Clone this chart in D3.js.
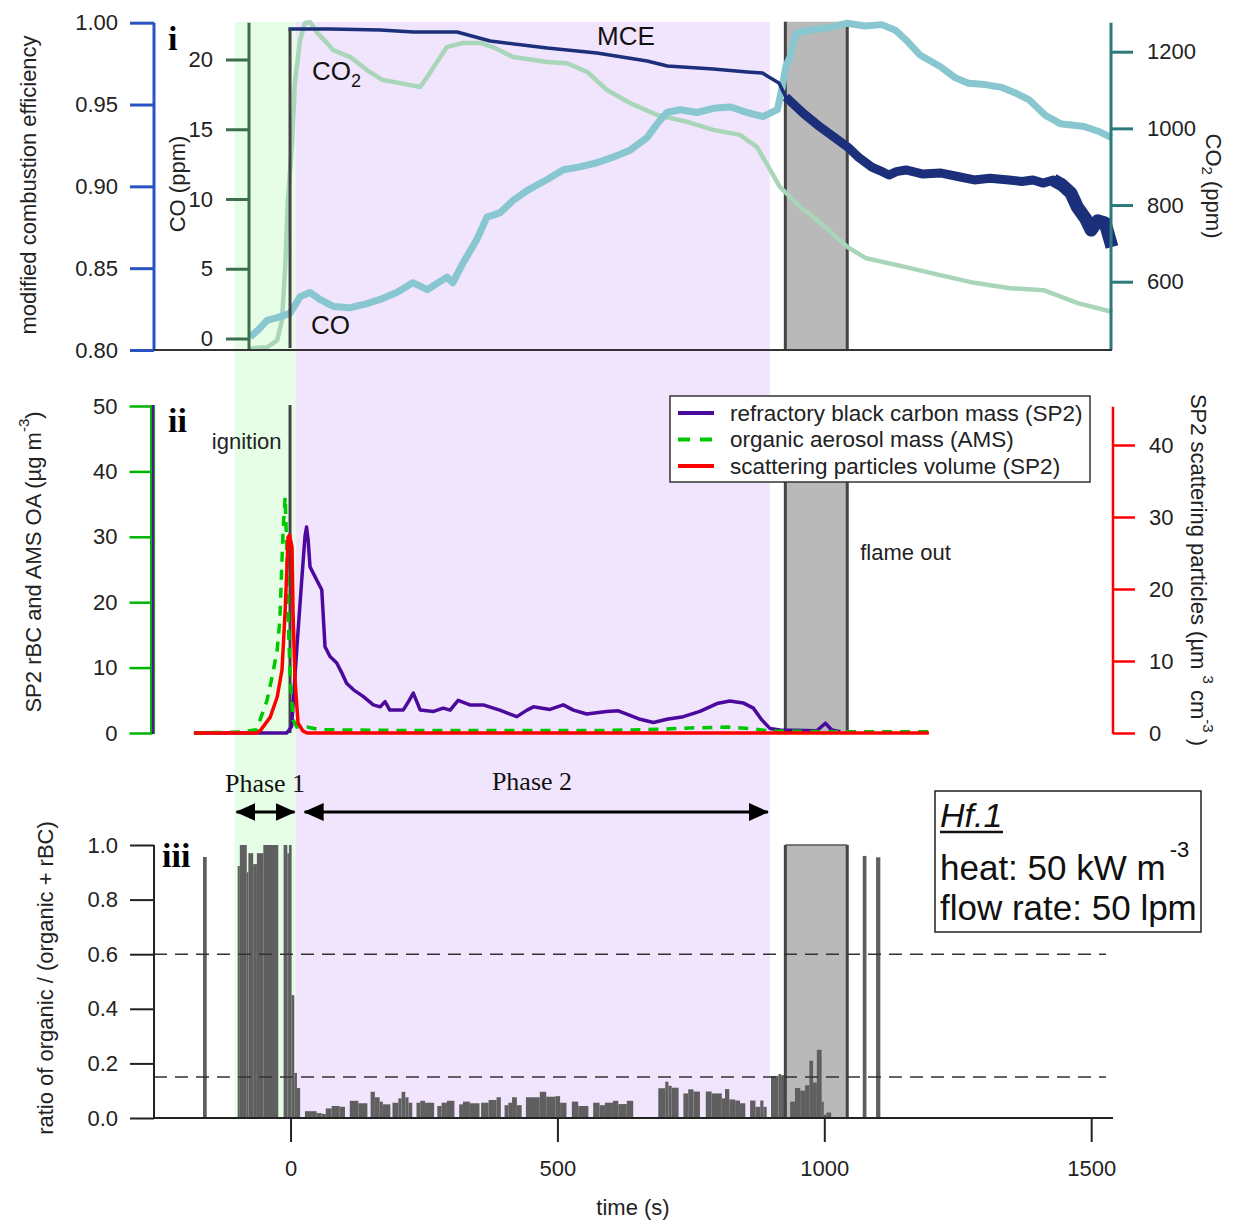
<!DOCTYPE html>
<html><head><meta charset="utf-8">
<script src="https://cdn.jsdelivr.net/npm/d3@7"></script>
<style>
body{margin:0;background:#fff;}
svg{font-family:"Liberation Sans",Arial,sans-serif;}
</style></head>
<body>
<script>
// ---------------- DATA ----------------
const xTicks = [0, 500, 1000, 1500];
const mceTicks = [0.80, 0.85, 0.90, 0.95, 1.00];
const coTicks = [0, 5, 10, 15, 20];
const co2Ticks = [600, 800, 1000, 1200];
const massTicks = [0, 10, 20, 30, 40, 50];
const scatTicks = [0, 10, 20, 30, 40];
const ratioTicks = [0, 0.2, 0.4, 0.6, 0.8, 1.0];
const ratioThresholds = [0.6, 0.15];

const ignitionTime = 0;
const phase1 = [-105, 9.5];
const phase2 = [9.5, 898];
const flameOut = [927, 1043];

// panel i : modified combustion efficiency [t, MCE]
const mce = [[-4,0.9961],[74,0.9961],[168,0.9955],[230,0.9943],[312,0.9943],[374,0.9888],[481,0.9845],[574,0.9815],[668,0.9766],[706,0.9735],[792,0.9717],[856,0.9699],[884,0.9693],[893,0.9674],[915,0.9632],[928,0.9546],[960,0.9448],[992,0.9363],[1044,0.9240],[1065,0.9175],[1089,0.9118],[1105,0.9095],[1121,0.9069],[1135,0.9090],[1153,0.9100],[1185,0.9075],[1217,0.9082],[1250,0.9060],[1281,0.9039],[1310,0.9050],[1346,0.9039],[1370,0.9030],[1391,0.9039],[1410,0.9020],[1429,0.9039],[1445,0.9010],[1462,0.8959],[1474,0.8874],[1490,0.8800],[1500,0.8733],[1512,0.8790],[1526,0.8776],[1539,0.8629]];
// panel i : CO (ppm) [t, CO]
const co = [[-76,0.1],[-61,0.6],[-44,1.3],[-25,1.5],[-1,1.8],[18,3.0],[36,3.3],[55,2.8],[80,2.3],[111,2.2],[143,2.5],[168,2.8],[199,3.3],[229,4.0],[256,3.5],[293,4.4],[304,4.0],[323,5.4],[349,7.1],[368,8.7],[392,9.0],[417,9.9],[443,10.6],[481,11.4],[511,12.1],[542,12.3],[574,12.6],[604,13.0],[636,13.5],[668,14.4],[687,15.4],[705,16.2],[730,16.4],[762,16.2],[792,16.5],[824,16.6],[855,16.2],[885,15.9],[912,16.4],[921,18.0],[928,19.5],[936,20.2],[947,21.9],[973,22.1],[1011,22.3],[1043,22.6],[1076,22.4],[1108,22.5],[1133,22.1],[1153,21.4],[1180,20.3],[1217,19.5],[1245,18.7],[1270,18.3],[1301,18.2],[1333,18.0],[1358,17.6],[1384,17.1],[1414,16.0],[1442,15.4],[1487,15.2],[1517,14.8],[1538,14.4]];
// panel i : CO2 (ppm) [t, CO2]
const co2 = [[-76,426],[-44,429],[-25,447],[-16,500],[-10,638],[-5,813],[3,962],[8,1118],[18,1231],[27,1275],[37,1277],[50,1249],[68,1223],[80,1204],[112,1186],[143,1152],[173,1126],[205,1118],[243,1108],[256,1134],[293,1212],[323,1223],[355,1223],[379,1212],[417,1186],[481,1173],[518,1170],[556,1147],[593,1100],[636,1066],[687,1035],[743,1017],[792,996],[842,983],[874,951],[917,847],[955,795],[987,761],[1043,691],[1077,662],[1153,638],[1217,617],[1281,597],[1348,583],[1411,578],[1475,544],[1540,521]];

// panel ii : refractory black carbon mass (µg m-3) [t, value]
const rbc = [[-181,0],[-7,0],[2,1],[12,13.2],[21,23.4],[27,30],[30,31.5],[33,29.5],[36.5,25.4],[49,23.4],[58.5,21.9],[64.6,13.2],[74,11.7],[86.6,10.7],[96,9.2],[105,7.6],[118,6.6],[136,5.6],[155,4.3],[168,4.0],[177,4.8],[186,3.5],[211,3.5],[221,4.8],[230,6.1],[243,3.5],[268,3.3],[286,3.8],[299,3.5],[314,5.0],[336,4.3],[361,4.3],[392,3.5],[424,2.5],[443,3.5],[455,4.0],[486,3.6],[511,4.3],[530,3.5],[555,2.9],[592,3.3],[614,3.4],[630,2.9],[655,2.1],[680,1.6],[705,2.1],[736,2.5],[767,3.3],[799,4.5],[823,4.9],[848,4.6],[867,3.8],[883,2.0],[898,0.7],[917,0.46],[986,0.35],[1002,1.5],[1014,0.46],[1030,0.2]];
// panel ii : organic aerosol mass (µg m-3) [t, value]
const oa = [[-181,0],[-94,0.15],[-63,0.5],[-57,2.0],[-44,5.0],[-33,9.2],[-25,12.7],[-20,17.3],[-14,31],[-10,36.1],[-6.6,26.5],[-4.7,18.3],[-1,9.2],[4.7,2.0],[12,0.9],[31,0.9],[55,0.5],[200,0.4],[400,0.4],[600,0.4],[700,0.6],[760,0.8],[820,0.9],[870,0.6],[900,0.3],[1000,0.2],[1196,0.2]];
// panel ii : scattering particles volume (µm3 cm-3) [t, value]
const scat = [[-181,0],[-63,0],[-57,0.3],[-38,2.2],[-25,5.0],[-16,8.75],[-10.3,16.7],[-6.6,23.1],[-4.7,27.2],[-1.9,27.5],[2.8,25.8],[4.7,16.7],[8.4,7.4],[14,1.4],[23,0.3],[31,0],[1196,0]];

// panel iii : ratio organic/(organic+rBC) bins [tStart, tEnd, ratio]
const ratioBars = [
[-164,-157,0.956],
[-99,-95,0.923],[-95,-82,1.0],[-82,-79,0.90],[-79,-70,0.97],[-70,-63,0.93],[-63,-51,0.97],[-51,-23,1.0],
[-13,-6,1.0],[-6,-3,0.97],[-3,2,1.0],[2,7,0.45],[7,12,0.165],[12,18,0.11],
[27,49,0.025],[49,58,0.018],[58,66,0.015],[66,77,0.035],[77,92,0.044],[92,102,0.041],
[111,127,0.063],[127,144,0.054],[150,158,0.096],[158,167,0.076],[167,173,0.06],[173,187,0.05],
[191,202,0.056],[202,208,0.072],[208,215,0.096],[215,221,0.076],[221,228,0.056],
[236,243,0.056],[243,252,0.063],[252,269,0.056],
[275,283,0.044],[283,293,0.056],[293,307,0.063],
[316,323,0.05],[323,336,0.06],[336,354,0.054],
[357,371,0.056],[371,386,0.066],[386,394,0.076],
[401,408,0.047],[408,415,0.056],[415,424,0.076],[424,433,0.047],
[441,467,0.076],[467,479,0.096],[479,496,0.078],[496,505,0.08],[505,517,0.056],
[527,539,0.06],[539,558,0.044],
[567,579,0.056],[579,589,0.047],[589,604,0.056],[604,614,0.063],[614,630,0.051],[630,642,0.063],
[689,702,0.109],[702,708,0.133],[708,714,0.118],[714,727,0.111],
[736,745,0.09],[745,755,0.105],[755,767,0.097],
[778,789,0.097],[789,808,0.09],[808,814,0.072],[814,822,0.106],[822,833,0.068],[833,842,0.064],[842,852,0.054],
[861,871,0.064],[871,880,0.041],[880,886,0.064],[886,892,0.041],
[900,914,0.154],[914,919,0.161],[919,926,0.157],
[936,945,0.06],[945,955,0.11],[955,964,0.10],[964,972,0.12],[972,979,0.21],[979,986,0.13],[986,995,0.25],[995,999,0.06],[999,1004,0.012],[1004,1013,0.02],
[1072,1079,0.96],[1097,1105,0.955]
];

const legendItems = [
  {label:"refractory black carbon mass (SP2)", color:"#4b0a9c", dash:null},
  {label:"organic aerosol mass (AMS)", color:"#00c800", dash:"12,10"},
  {label:"scattering particles volume (SP2)", color:"#ff0000", dash:null}
];

// ---------------- SCALES ----------------
const W = 1238, H = 1222;
const SERIF = '"Liberation Serif","Times New Roman",serif';
const x = d3.scaleLinear().domain([-255.8, 1539]).range([154, 1112]);
const yMCE = d3.scaleLinear().domain([0.80, 1.00]).range([350, 22.7]);
const yCO = d3.scaleLinear().domain([0, 20]).range([338.5, 59.5]);
const yCO2 = d3.scaleLinear().domain([600, 1200]).range([281.7, 51.7]);
const yL = d3.scaleLinear().domain([0, 50]).range([733, 406]);
const yR = d3.scaleLinear().domain([0, 40]).range([733, 445]);
const yRatio = d3.scaleLinear().domain([0, 1]).range([1118, 845]);

const svg = d3.select("body").append("svg").attr("width", W).attr("height", H);
svg.append("rect").attr("width", W).attr("height", H).attr("fill", "#fff");

// ---------------- SHADING ----------------
const shadeTop = 22, shadeBot = 1118;
svg.append("rect").attr("x", x(phase1[0])).attr("width", x(phase1[1]) - x(phase1[0]))
  .attr("y", shadeTop).attr("height", shadeBot - shadeTop).attr("fill", "#e6fde6");
svg.append("rect").attr("x", x(phase2[0])).attr("width", x(phase2[1]) - x(phase2[0]))
  .attr("y", shadeTop).attr("height", shadeBot - shadeTop).attr("fill", "#f1e4fd");

const grayPanels = [[yMCE(1.0) - 1, yMCE(0.8) - 1], [yL(50) - 1, yL(0)], [yRatio(1), yRatio(0)]];
grayPanels.forEach(([t, b]) => {
  svg.append("rect").attr("x", x(flameOut[0])).attr("width", x(flameOut[1]) - x(flameOut[0]))
    .attr("y", t).attr("height", b - t).attr("fill", "#b9b9b9");
});

function vline(xp, y1, y2, color, w){
  svg.append("line").attr("x1", xp).attr("x2", xp).attr("y1", y1).attr("y2", y2)
    .attr("stroke", color).attr("stroke-width", w);
}
// panel iii bars (under gray edges)
svg.append("g").selectAll("rect").data(ratioBars).join("rect")
  .attr("x", d => x(d[0])).attr("width", d => Math.max(1, x(d[1]) - x(d[0])))
  .attr("y", d => yRatio(d[2])).attr("height", d => yRatio(0) - yRatio(d[2]))
  .attr("fill", "#5f5f5f");

grayPanels.forEach(([t, b]) => {
  flameOut.forEach(tt => vline(x(tt), t, b, "#444", 3));
});
svg.append("line").attr("x1", x(flameOut[0])).attr("x2", x(flameOut[1])).attr("y1", yRatio(1)).attr("y2", yRatio(1))
  .attr("stroke", "#555").attr("stroke-width", 1.5);

const fontTick = 22;
function styleAxis(g, color, tickW){
  g.select(".domain").remove();
  g.attr("font-family", null).attr("font-size", null);
  g.selectAll(".tick line").attr("stroke", color).attr("stroke-width", tickW || 2.5);
  g.selectAll(".tick text").attr("fill", "#222").attr("font-size", fontTick);
}
const fmtInt = d3.format("d");

// ---------------- PANEL i ----------------
const coAxisX = 249;
const lineCO2 = d3.line().x(d => x(d[0])).y(d => yCO2(d[1]));
const lineCO = d3.line().x(d => x(d[0])).y(d => yCO(d[1]));
const lineMCE = d3.line().x(d => x(d[0])).y(d => yMCE(d[1]));

svg.append("path").datum(co2).attr("d", lineCO2).attr("fill", "none")
  .attr("stroke", "#a9d5b9").attr("stroke-width", 4.5).attr("stroke-linejoin", "round");
svg.append("path").datum(co).attr("d", lineCO).attr("fill", "none")
  .attr("stroke", "#88c6d0").attr("stroke-width", 7).attr("stroke-linejoin", "round");
svg.append("path").datum(mce.filter(d => d[0] <= 1044)).attr("d", lineMCE).attr("fill", "none")
  .attr("stroke", "#1b2f7a").attr("stroke-width", 3.5).attr("stroke-linejoin", "round");
svg.append("path").datum(mce.filter(d => d[0] >= 928 && d[0] <= 1462)).attr("d", lineMCE).attr("fill", "none")
  .attr("stroke", "#1b2f7a").attr("stroke-width", 9).attr("stroke-linejoin", "round");
svg.append("path").datum(mce.filter(d => d[0] >= 1429)).attr("d", lineMCE).attr("fill", "none")
  .attr("stroke", "#1b2f7a").attr("stroke-width", 13).attr("stroke-linejoin", "round");

// MCE axis
svg.append("g").attr("transform", `translate(${x.range()[0]},0)`)
  .call(d3.axisLeft(yMCE).tickValues(mceTicks).tickFormat(d3.format(".2f")).tickSize(24).tickPadding(12))
  .call(g => styleAxis(g, "#2a52c2", 3));
vline(x.range()[0], yMCE(1.0), yMCE(0.8), "#2a52c2", 3);
// CO axis
svg.append("g").attr("transform", `translate(${coAxisX},0)`)
  .call(d3.axisLeft(yCO).tickValues(coTicks).tickFormat(fmtInt).tickSize(23).tickPadding(13))
  .call(g => styleAxis(g, "#3c6e4c", 3));
vline(coAxisX, yMCE(1.0), yMCE(0.8), "#3c6e4c", 3);
// CO2 axis
svg.append("g").attr("transform", `translate(${x.range()[1] - 1},0)`)
  .call(d3.axisRight(yCO2).tickValues(co2Ticks).tickFormat(fmtInt).tickSize(22).tickPadding(14))
  .call(g => styleAxis(g, "#2c7b7b", 3));
vline(x.range()[1] - 1, yMCE(1.0), yMCE(0.8), "#2c7b7b", 3);
svg.append("line").attr("x1", x.range()[0]).attr("x2", x.range()[1]).attr("y1", yMCE(0.8)).attr("y2", yMCE(0.8))
  .attr("stroke", "#333").attr("stroke-width", 2);
vline(x(ignitionTime) - 0.5, yMCE(0.8) - 2, 29, "#444", 3);

svg.append("text").attr("x", 168).attr("y", 50).text("i")
  .attr("font-family", SERIF).attr("font-weight", "bold").attr("font-size", 34);
const tCO2 = svg.append("text").attr("x", 312).attr("y", 80).attr("font-size", 26).attr("fill", "#111");
tCO2.append("tspan").text("CO");
tCO2.append("tspan").text("2").attr("font-size", 18).attr("dy", 7);
svg.append("text").attr("x", 311).attr("y", 334).attr("font-size", 26).attr("fill", "#111").text("CO");
svg.append("text").attr("x", 597).attr("y", 45).attr("font-size", 26).attr("fill", "#111").text("MCE");

svg.append("text").attr("transform", "translate(28,185) rotate(-90)").attr("text-anchor", "middle")
  .attr("dominant-baseline", "central").attr("font-size", 22).attr("fill", "#222").text("modified combustion efficiency");
svg.append("text").attr("transform", "translate(177,184) rotate(-90)").attr("text-anchor", "middle")
  .attr("dominant-baseline", "central").attr("font-size", 22).attr("fill", "#222").text("CO (ppm)");
const tco2ax = svg.append("text").attr("transform", "translate(1214,186) rotate(90)").attr("text-anchor", "middle")
  .attr("dominant-baseline", "central").attr("font-size", 22).attr("fill", "#222");
tco2ax.append("tspan").text("CO");
tco2ax.append("tspan").text("2").attr("font-size", 15).attr("dy", 6);
tco2ax.append("tspan").text(" (ppm)").attr("dy", -6);

// ---------------- PANEL ii ----------------
const lineL = d3.line().x(d => x(d[0])).y(d => yL(d[1]));
const lineR = d3.line().x(d => x(d[0])).y(d => yR(d[1]));
vline(x(ignitionTime) - 0.5, yL(0), yL(50) - 1, "#444", 3);

svg.append("path").datum(rbc).attr("d", lineL).attr("fill", "none")
  .attr("stroke", "#4b0a9c").attr("stroke-width", 3.5).attr("stroke-linejoin", "round");
svg.append("path").datum(oa).attr("d", lineL).attr("fill", "none")
  .attr("stroke", "#00c800").attr("stroke-width", 3.5).attr("stroke-dasharray", "10,8");
svg.append("path").datum(scat).attr("d", lineR).attr("fill", "none")
  .attr("stroke", "#ff0000").attr("stroke-width", 3.5).attr("stroke-linejoin", "round");

const p2AxisX = 152.5;
svg.append("g").attr("transform", `translate(${p2AxisX},0)`)
  .call(d3.axisLeft(yL).tickValues(massTicks).tickFormat(fmtInt).tickSize(23).tickPadding(12))
  .call(g => styleAxis(g, "#00b400", 2.5));
vline(p2AxisX, yL(0) + 1, yL(50) - 1, "#00b400", 5);
vline(p2AxisX + 0.5, yL(0) + 1, yL(50) - 1, "#5a0aa8", 2);
const p2RX = 1113;
svg.append("g").attr("transform", `translate(${p2RX},0)`)
  .call(d3.axisRight(yR).tickValues(scatTicks).tickFormat(fmtInt).tickSize(22).tickPadding(14))
  .call(g => styleAxis(g, "#ff0000", 2.5));
vline(p2RX, yR(0) + 1, yR(45.3), "#ff0000", 2.5);

svg.append("text").attr("x", 168).attr("y", 432).text("ii")
  .attr("font-family", SERIF).attr("font-weight", "bold").attr("font-size", 34);
svg.append("text").attr("x", x(ignitionTime) - 9).attr("y", 449).attr("text-anchor", "end")
  .attr("font-size", 22).attr("fill", "#222").text("ignition");
svg.append("text").attr("x", x(flameOut[1]) + 13).attr("y", 560)
  .attr("font-size", 22).attr("fill", "#222").text("flame out");

const tL2 = svg.append("text").attr("transform", "translate(33,562) rotate(-90)").attr("text-anchor", "middle")
  .attr("dominant-baseline", "central").attr("font-size", 22).attr("fill", "#222");
tL2.append("tspan").text("SP2 rBC and AMS OA (µg m");
tL2.append("tspan").text("-3").attr("font-size", 15).attr("dy", -10);
tL2.append("tspan").text(")").attr("dy", 10);
const tR2 = svg.append("text").attr("transform", "translate(1199,570) rotate(90)").attr("text-anchor", "middle")
  .attr("dominant-baseline", "central").attr("font-size", 22).attr("fill", "#222");
tR2.append("tspan").text("SP2 scattering particles (µm ");
tR2.append("tspan").text("3").attr("font-size", 15).attr("dy", -10);
tR2.append("tspan").text(" cm").attr("dy", 10);
tR2.append("tspan").text("-3").attr("font-size", 15).attr("dy", -10);
tR2.append("tspan").text(" )").attr("dy", 10);

const lg = svg.append("g").attr("transform", "translate(670,396)");
lg.append("rect").attr("width", 420).attr("height", 86).attr("fill", "#fff").attr("stroke", "#333").attr("stroke-width", 1.5);
legendItems.forEach((d, i) => {
  const yy = 17 + i * 26.5;
  lg.append("line").attr("x1", 8).attr("x2", 44).attr("y1", yy).attr("y2", yy)
    .attr("stroke", d.color).attr("stroke-width", 4).attr("stroke-dasharray", d.dash);
  lg.append("text").attr("x", 60).attr("y", yy).attr("dominant-baseline", "central")
    .attr("font-size", 22.5).attr("fill", "#222").text(d.label);
});

// ---------------- PANEL iii ----------------
ratioThresholds.forEach(v => {
  svg.append("line").attr("x1", x.range()[0]).attr("x2", 1106).attr("y1", yRatio(v)).attr("y2", yRatio(v))
    .attr("stroke", "#333").attr("stroke-width", 1.5).attr("stroke-dasharray", "13,8");
});

svg.append("g").attr("transform", `translate(${x.range()[0]},0)`)
  .call(d3.axisLeft(yRatio).tickValues(ratioTicks).tickFormat(d3.format(".1f")).tickSize(24).tickPadding(12))
  .call(g => styleAxis(g, "#222", 2));
vline(x.range()[0], yRatio(0), yRatio(1), "#222", 2);
svg.append("g").attr("transform", `translate(0,${yRatio(0)})`)
  .call(d3.axisBottom(x).tickValues(xTicks).tickFormat(fmtInt).tickSize(24).tickPadding(18))
  .call(g => styleAxis(g, "#222", 2));
svg.append("line").attr("x1", x.range()[0]).attr("x2", x.range()[1] + 1).attr("y1", yRatio(0)).attr("y2", yRatio(0))
  .attr("stroke", "#222").attr("stroke-width", 2);

svg.append("text").attr("x", 162).attr("y", 867).text("iii")
  .attr("font-family", SERIF).attr("font-weight", "bold").attr("font-size", 34);
svg.append("text").attr("transform", "translate(45,978) rotate(-90)").attr("text-anchor", "middle")
  .attr("dominant-baseline", "central").attr("font-size", 22).attr("fill", "#222").text("ratio of organic / (organic + rBC)");
svg.append("text").attr("x", 633).attr("y", 1215).attr("text-anchor", "middle")
  .attr("font-size", 22).attr("fill", "#222").text("time (s)");

const defs = svg.append("defs");
defs.append("marker").attr("id", "ah").attr("viewBox", "0 0 20 20").attr("refX", 19).attr("refY", 10)
  .attr("markerWidth", 20).attr("markerHeight", 20).attr("markerUnits", "userSpaceOnUse").attr("orient", "auto-start-reverse")
  .append("path").attr("d", "M0,1 L20,10 L0,19 Z").attr("fill", "#000");
const arrowY = 812;
svg.append("line").attr("x1", x(phase1[0]) + 2).attr("x2", x(phase1[1]) - 1).attr("y1", arrowY).attr("y2", arrowY)
  .attr("stroke", "#000").attr("stroke-width", 3).attr("marker-start", "url(#ah)").attr("marker-end", "url(#ah)");
svg.append("line").attr("x1", x(phase2[0]) + 9).attr("x2", x(phase2[1]) - 2).attr("y1", arrowY).attr("y2", arrowY)
  .attr("stroke", "#000").attr("stroke-width", 3).attr("marker-start", "url(#ah)").attr("marker-end", "url(#ah)");
svg.append("text").attr("x", (x(phase1[0]) + x(phase1[1])) / 2).attr("y", 792).attr("text-anchor", "middle")
  .attr("font-family", SERIF).attr("font-size", 26).attr("fill", "#111").text("Phase 1");
svg.append("text").attr("x", 532).attr("y", 790).attr("text-anchor", "middle")
  .attr("font-family", SERIF).attr("font-size", 26).attr("fill", "#111").text("Phase 2");

const hb = svg.append("g").attr("transform", "translate(935,791)");
hb.append("rect").attr("width", 266).attr("height", 141).attr("fill", "#fff").attr("stroke", "#222").attr("stroke-width", 1.5);
hb.append("text").attr("x", 5).attr("y", 36).attr("font-size", 34).attr("font-style", "italic").attr("fill", "#111").text("Hf.1");
hb.append("line").attr("x1", 5).attr("x2", 68).attr("y1", 41).attr("y2", 41).attr("stroke", "#111").attr("stroke-width", 2.5);
const th = hb.append("text").attr("x", 5).attr("y", 89).attr("font-size", 35).attr("fill", "#111");
th.append("tspan").text("heat: 50 kW m");
th.append("tspan").text("-3").attr("font-size", 22).attr("dx", 4).attr("dy", -23);
hb.append("text").attr("x", 5).attr("y", 129).attr("font-size", 35).attr("fill", "#111").text("flow rate: 50 lpm");
</script>
</body></html>
